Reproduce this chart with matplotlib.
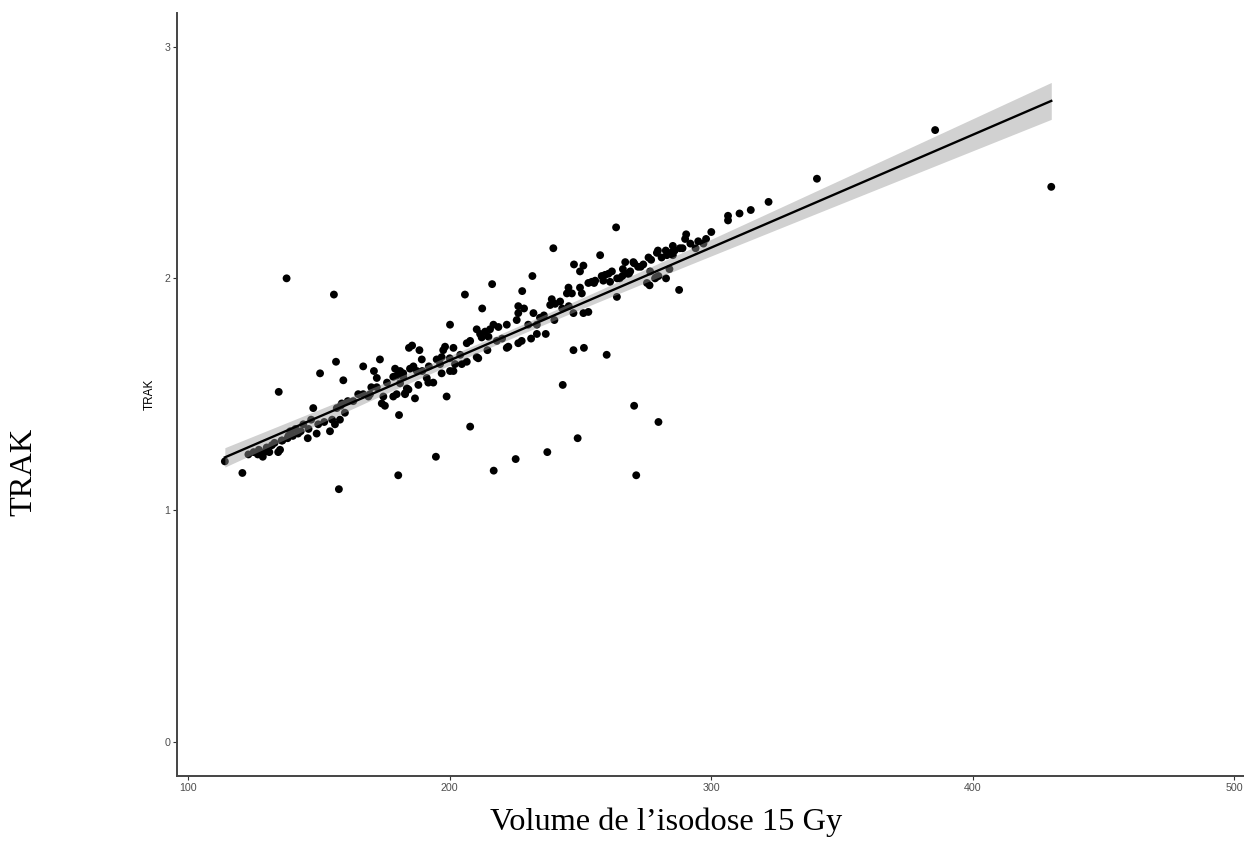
"""
TRAK versus volume of the 15 Gy isodose, with a linear fit and its 95% band.
"""

import numpy as np
import matplotlib
matplotlib.use('Agg')
import matplotlib.pyplot as plt

# Volume of the 15 Gy isodose
volume = [
    114.0, 120.7, 126.6, 128.5, 129.1, 131.0, 134.4, 135.1, 135.7, 134.6,
    137.6, 138.3, 145.7, 147.8, 149.1, 149.7, 150.4, 154.2, 155.7, 156.1,
    156.5, 156.8, 157.6, 158.0, 158.3, 158.7, 159.3, 159.9, 163.1, 166.9,
    166.9, 168.9, 169.5, 171.0, 172.1, 172.1, 173.3, 174.0, 174.6, 175.2,
    178.4, 178.4, 179.1, 179.7, 179.7, 180.3, 180.6, 181.0, 182.2, 182.9,
    184.2, 184.4, 185.6, 188.4, 189.3, 186.1, 184.8, 187.4, 191.2, 191.8,
    182.2, 181.0, 183.6, 182.9, 186.7, 188.0, 193.7, 196.9, 196.9, 195.0,
    196.3, 198.2, 197.5, 198.8, 200.1, 201.4, 206.5, 204.6, 202.0, 201.4,
    200.1, 207.8, 206.5, 210.3, 210.9, 214.4, 210.3, 211.6, 213.5, 215.4,
    216.7, 218.6, 221.8, 214.8, 212.2, 221.8, 222.4, 226.2, 227.5, 231.1,
    233.3, 236.7, 233.3, 240.0, 225.6, 226.2, 232.0, 226.2, 228.4, 239.0,
    240.3, 238.4, 242.2, 245.4, 246.7, 244.8, 249.8, 250.5, 247.3, 251.1,
    253.0, 255.2, 253.0, 254.3, 255.6, 205.8, 212.4, 216.2, 227.7, 231.6,
    239.6, 247.5, 251.1, 249.8, 207.8, 194.7, 216.8, 225.2, 237.3, 243.2,
    248.9, 247.3, 251.3, 260.0, 270.5, 279.8, 271.3, 263.9, 263.6, 257.5,
    258.1, 258.7, 259.4, 260.7, 262.0, 266.2, 269.0, 267.1, 270.2, 270.5,
    276.6, 278.5, 279.8, 278.9, 282.7, 284.0, 275.4, 276.4, 287.7, 276.0,
    279.2, 279.6, 282.6, 285.3, 285.3, 290.0, 290.4, 300.0, 306.4, 306.4,
    310.8, 315.1, 321.9, 340.4, 385.6, 430.0,
    261.3, 265.0, 268.5, 243.0, 245.5, 230.0, 220.0, 218.0, 204.0, 200.0,
    192.0, 189.5, 176.0, 170.0, 165.0, 161.0, 147.0, 144.0, 141.0, 139.0,
    294.0, 297.0, 234.5, 236.0,
    # points packed under the ribbon
    123.0, 125.0, 127.0, 132.0, 133.0, 136.0, 140.0, 143.0, 146.0, 152.0,
    155.0, 130.0, 138.0, 142.0,
    264.0, 266.0, 268.0, 272.0, 274.0, 277.0, 281.0, 283.0, 286.0, 288.0,
    292.0, 295.0, 273.0, 284.5, 289.0, 298.0,
]

# TRAK
trak = [
    1.21, 1.16, 1.24, 1.23, 1.25, 1.25, 1.25, 1.26, 1.30, 1.51,
    2.00, 1.32, 1.31, 1.44, 1.33, 1.37, 1.59, 1.34, 1.93, 1.37,
    1.64, 1.44, 1.09, 1.39, 1.45, 1.46, 1.56, 1.42, 1.47, 1.50,
    1.62, 1.49, 1.50, 1.60, 1.57, 1.53, 1.65, 1.46, 1.49, 1.45,
    1.49, 1.575, 1.61, 1.50, 1.58, 1.15, 1.41, 1.60, 1.59, 1.50,
    1.52, 1.70, 1.71, 1.69, 1.65, 1.62, 1.61, 1.60, 1.57, 1.55,
    1.575, 1.547, 1.525, 1.504, 1.482, 1.54, 1.55, 1.59, 1.66, 1.65,
    1.63, 1.705, 1.69, 1.49, 1.80, 1.70, 1.64, 1.63, 1.63, 1.60,
    1.60, 1.73, 1.72, 1.66, 1.655, 1.69, 1.78, 1.76, 1.77, 1.78,
    1.80, 1.79, 1.80, 1.748, 1.745, 1.70, 1.705, 1.72, 1.73, 1.74,
    1.76, 1.76, 1.80, 1.82, 1.82, 1.85, 1.85, 1.88, 1.87, 1.91,
    1.89, 1.885, 1.90, 1.96, 1.935, 1.935, 1.96, 1.935, 1.85, 1.85,
    1.855, 1.98, 1.98, 1.985, 1.99, 1.93, 1.87, 1.975, 1.945, 2.01,
    2.13, 2.06, 2.055, 2.03, 1.36, 1.23, 1.17, 1.22, 1.25, 1.54,
    1.31, 1.69, 1.70, 1.67, 1.45, 1.38, 1.15, 1.92, 2.22, 2.10,
    2.01, 1.99, 2.015, 2.02, 2.03, 2.04, 2.03, 2.07, 2.07, 2.065,
    2.03, 2.00, 2.01, 2.005, 2.00, 2.04, 1.98, 1.97, 1.95, 2.09,
    2.11, 2.12, 2.12, 2.14, 2.10, 2.17, 2.19, 2.20, 2.25, 2.27,
    2.28, 2.295, 2.33, 2.43, 2.64, 2.395,
    1.985, 2.00, 2.02, 1.87, 1.88, 1.80, 1.74, 1.73, 1.67, 1.655,
    1.62, 1.60, 1.55, 1.53, 1.50, 1.47, 1.39, 1.37, 1.35, 1.34,
    2.13, 2.15, 1.83, 1.84,
    1.24, 1.25, 1.26, 1.28, 1.29, 1.30, 1.32, 1.34, 1.35, 1.38,
    1.39, 1.27, 1.31, 1.33,
    2.00, 2.01, 2.02, 2.05, 2.06, 2.08, 2.09, 2.10, 2.12, 2.13,
    2.15, 2.16, 2.05, 2.11, 2.13, 2.17,
]

x_ticks = [100, 200, 300, 400, 500]
y_ticks = [0, 1, 2, 3]


def linear_fit_band(x, y, grid, t_crit=1.97):
    """Least-squares line and 95% confidence band for the mean."""
    slope, intercept = np.polyfit(x, y, 1)
    resid = y - (slope * x + intercept)
    n = len(x)
    s = np.sqrt(np.sum(resid ** 2) / (n - 2))
    sxx = np.sum((x - x.mean()) ** 2)
    fit = slope * grid + intercept
    half = t_crit * s * np.sqrt(1.0 / n + (grid - x.mean()) ** 2 / sxx)
    return fit, fit - half, fit + half


def main():
    x = np.asarray(volume, dtype=float)
    y = np.asarray(trak, dtype=float)
    grid = np.linspace(x.min(), x.max(), 200)
    fit, lo, hi = linear_fit_band(x, y, grid)

    fig = plt.figure(figsize=(12.44, 8.41), dpi=100)
    ax = fig.add_axes([177 / 1244, 65 / 841, 1067 / 1244, 762.7 / 841])

    ax.scatter(x, y, s=32, color='black', edgecolors='none', zorder=2)
    ax.fill_between(grid, lo, hi, color='#999999', alpha=0.45,
                    linewidth=0, zorder=3)
    ax.plot(grid, fit, color='black', lw=1.7, zorder=4)

    ax.set_xlim(95.7, 503.7)
    ax.set_ylim(-0.148, 3.144)
    ax.set_xticks(x_ticks)
    ax.set_yticks(y_ticks)

    for side in ('top', 'right'):
        ax.spines[side].set_visible(False)
    for side in ('left', 'bottom'):
        ax.spines[side].set_color('#444444')
        ax.spines[side].set_linewidth(1.4)
    ax.tick_params(axis='both', length=3, width=0.8, color='#333333',
                   labelsize=7.7, labelcolor='#4D4D4D', pad=2)
    for lab in ax.get_xticklabels() + ax.get_yticklabels():
        lab.set_family('Liberation Sans')

    ax.set_ylabel('TRAK', fontsize=8.5, family='Liberation Sans',
                  color='black', labelpad=6)

    fig.text(24 / 1244, 1 - 472 / 841, 'TRAK', rotation=90,
             fontsize=23.3, family='Liberation Serif',
             ha='center', va='center')
    fig.text(666 / 1244, 1 - 830 / 841, 'Volume de l\u2019isodose 15 Gy',
             fontsize=23.3, family='Liberation Serif',
             ha='center', va='baseline')

    fig.savefig('out.png', dpi=100)
    plt.close(fig)


if __name__ == '__main__':
    main()
